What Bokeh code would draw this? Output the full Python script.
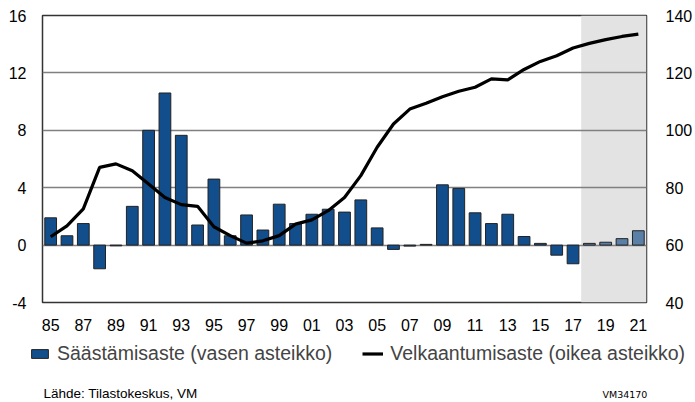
from bokeh.plotting import figure
from bokeh.models import (Range1d, LinearAxis, FixedTicker, BoxAnnotation, Legend,
                          LegendItem, Label, ColumnDataSource)
from bokeh.embed import file_html
from bokeh.resources import INLINE

years = list(range(1985, 2022))
saving_rate = [1.9, 0.65, 1.5, -1.65, -0.05, 2.7, 8.0, 10.6, 7.65, 1.4,
               4.6, 0.65, 2.1, 1.05, 2.85, 1.5, 2.15, 2.5, 2.3, 3.15,
               1.2, -0.3, -0.07, 0.05, 4.2, 3.95, 2.25, 1.5, 2.15, 0.6,
               0.12, -0.7, -1.3, 0.12, 0.2, 0.45, 1.0]
debt_ratio = [62.9, 66.7, 72.6, 87.1, 88.3, 85.9, 81.3, 76.6, 74.1, 73.5,
              66.4, 63.3, 60.7, 61.5, 63.3, 67.3, 68.8, 72.0, 76.6, 84.2,
              94.1, 102.2, 107.4, 109.4, 111.7, 113.6, 115.0, 117.9, 117.6, 121.2,
              124.0, 126.0, 128.7, 130.3, 131.6, 132.7, 133.5]
forecast_from = 2018
tick_years = list(range(1985, 2022, 2))
tick_labels = [f"{y % 100:02d}" for y in tick_years]
left_ticks = [-4, 0, 4, 8, 12, 16]
left_labels = ["-4", "0", "4", "8", "12", "16"]
right_ticks = [40, 60, 80, 100, 120, 140]
series_names = ["Säästämisaste (vasen asteikko)", "Velkaantumisaste (oikea asteikko)"]
source_text = "Lähde: Tilastokeskus, VM"
chart_id = "VM34170"

FONT = "Liberation Sans"
BAR = "#124e8c"
BAR_FC = "#5a80a8"
fill = [BAR if y < forecast_from else BAR_FC for y in years]
src = ColumnDataSource(dict(x=years, top=saving_rate, fill=fill, debt=debt_ratio))

main = figure(width=695, height=335, output_backend="svg", toolbar_location=None,
              x_range=Range1d(1984.5, 2021.5), y_range=Range1d(-4, 16),
              min_border_left=42, min_border_right=46, min_border_top=15, min_border_bottom=33)
main.extra_y_ranges = {"debt": Range1d(40, 140)}

main.outline_line_color = "#333333"
main.outline_line_width = 1.5
main.background_fill_color = "white"

shade = BoxAnnotation(left=forecast_from - 0.5, right=2021.5, fill_color="#e3e3e3",
                      fill_alpha=1, line_color=None, level="image")
main.add_layout(shade)

main.xgrid.visible = False
main.ygrid.ticker = FixedTicker(ticks=left_ticks)
main.ygrid.grid_line_color = "#808080"
main.ygrid.grid_line_width = 1.5

BAR_STYLE = dict(width=0.72, fill_color="fill", line_color="#222222", line_width=1)
LINE_STYLE = dict(line_color="black", line_width=3.2)

main.vbar(x="x", top="top", bottom=0, source=src, **BAR_STYLE)
main.line(x="x", y="debt", source=src, y_range_name="debt", **LINE_STYLE)

def style_axis(ax):
    ax.axis_line_color = None
    ax.major_tick_line_color = None
    ax.minor_tick_line_color = None
    ax.major_label_text_font = FONT
    ax.major_label_text_font_size = "16px"
    ax.major_label_text_color = "black"

main.xaxis.ticker = FixedTicker(ticks=tick_years)
main.xaxis.major_label_overrides = {y: l for y, l in zip(tick_years, tick_labels)}
main.yaxis.ticker = FixedTicker(ticks=left_ticks)
main.yaxis.major_label_overrides = {t: l for t, l in zip(left_ticks, left_labels)}
style_axis(main.xaxis[0])
style_axis(main.yaxis[0])
main.xaxis.major_label_standoff = 10
main.yaxis.major_label_standoff = 10

ra = LinearAxis(y_range_name="debt", ticker=FixedTicker(ticks=right_ticks))
style_axis(ra)
ra.major_label_standoff = 13
main.add_layout(ra, "right")

# footer: legend and source notes (series kept outside its visible range, only for legend swatches)
foot = figure(width=695, height=67, output_backend="svg", toolbar_location=None,
              x_range=Range1d(1984.5, 2021.5), y_range=Range1d(150, 250),
              x_axis_type=None, y_axis_type=None,
              min_border_left=0, min_border_right=0, min_border_top=0, min_border_bottom=0)
foot.outline_line_color = None
foot.xgrid.visible = False
foot.ygrid.visible = False
leg_bar = foot.vbar(x="x", top="top", bottom=0, source=src, **BAR_STYLE)
leg_line = foot.line(x="x", y="debt", source=src, **LINE_STYLE)

legend = Legend(items=[LegendItem(label=series_names[0], renderers=[leg_bar]),
                       LegendItem(label=series_names[1], renderers=[leg_line])],
                orientation="horizontal", location=(29, 37),
                label_text_font=FONT, label_text_font_size="19.5px",
                glyph_width=21, glyph_height=11, label_standoff=7, spacing=30,
                padding=0, margin=0, border_line_color=None, background_fill_alpha=0)
foot.add_layout(legend, "center")

foot.add_layout(Label(x=43, y=2, x_units="screen", y_units="screen",
                      text=source_text, text_font=FONT,
                      text_font_size="13.5px", text_color="black"))
foot.add_layout(Label(x=602, y=3, x_units="screen", y_units="screen",
                      text=chart_id, text_font="DejaVu Sans",
                      text_font_size="9.5px", text_color="black"))

p = [main, foot]
open("out.html", "w").write(file_html(p, INLINE))
